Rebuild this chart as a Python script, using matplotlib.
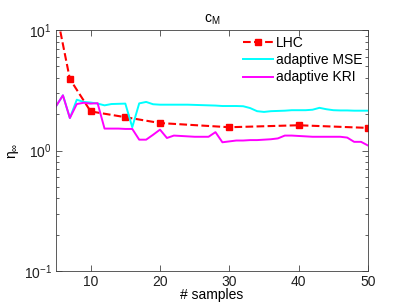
import matplotlib
matplotlib.use("Agg")
import matplotlib.pyplot as plt
from matplotlib.ticker import LogLocator, NullFormatter

plt.rcParams['font.family'] = ['Liberation Sans', 'DejaVu Sans']
plt.rcParams['mathtext.fontset'] = 'custom'
plt.rcParams['mathtext.rm'] = 'Liberation Sans'
plt.rcParams['mathtext.it'] = 'Liberation Sans'
plt.rcParams['mathtext.bf'] = 'Liberation Sans:bold'

# Data
lhc_x = [5, 7, 10, 15, 20, 30, 40, 50]
lhc_y = [14.7, 3.92, 2.11, 1.89, 1.69, 1.56, 1.62, 1.54]

adapt_x = list(range(5, 51))
mse_y = [2.33, 2.87, 1.86, 2.64, 2.53, 2.50, 2.45, 2.37, 2.43, 2.44,
         2.45, 1.56, 2.46, 2.53, 2.42, 2.40, 2.40, 2.40, 2.40, 2.40,
         2.39, 2.38, 2.37, 2.36, 2.34, 2.34, 2.34, 2.33, 2.25, 2.12,
         2.09, 2.12, 2.13, 2.14, 2.16, 2.16, 2.16, 2.18, 2.26, 2.20,
         2.16, 2.15, 2.15, 2.14, 2.14, 2.14]
kri_y = [2.33, 2.87, 1.86, 2.43, 2.49, 2.45, 2.47, 1.52, 1.52, 1.52,
         1.51, 1.51, 1.23, 1.23, 1.35, 1.49, 1.27, 1.33, 1.32, 1.31,
         1.30, 1.30, 1.30, 1.42, 1.17, 1.19, 1.21, 1.21, 1.22, 1.22,
         1.23, 1.24, 1.26, 1.33, 1.33, 1.32, 1.31, 1.30, 1.30, 1.30,
         1.30, 1.30, 1.28, 1.18, 1.18, 1.10]

xticks = [10, 20, 30, 40, 50]

fig = plt.figure(figsize=(4.07, 3.06), dpi=100)
ax = fig.add_axes([56/407, 1-271/306, (368-56)/407, (271-30)/306])

ax.plot(lhc_x, lhc_y, color='#ff0000', linestyle='--', linewidth=1.5,
        marker='s', markersize=5, label='LHC')
ax.plot(adapt_x, mse_y, color='#00ffff', linewidth=1.4, label='adaptive MSE')
ax.plot(adapt_x, kri_y, color='#ff00ff', linewidth=1.4, label='adaptive KRI')

ax.set_yscale('log')
ax.set_xlim(5, 50)
ax.set_ylim(0.1, 10)
ax.set_xticks(xticks)
ax.set_xticklabels([str(t) for t in xticks])
ax.yaxis.set_major_locator(LogLocator(base=10, numticks=5))
ax.yaxis.set_minor_locator(LogLocator(base=10, subs=range(2, 10), numticks=20))
ax.yaxis.set_minor_formatter(NullFormatter())

for s in ax.spines.values():
    s.set_linewidth(0.6)
    s.set_color('#404040')
ax.tick_params(which='both', direction='in', top=True, right=True,
               labelsize=10, colors='#202020', width=0.5, pad=3)
ax.tick_params(which='major', length=4)
ax.tick_params(which='minor', length=2)

ax.set_title(r'c$_{\mathrm{M}}$', fontsize=10, pad=5)
ax.set_xlabel('# samples', fontsize=10, labelpad=-1)
ax.set_ylabel(r'$\mathrm{\eta_{\infty}}$', fontsize=10, labelpad=2)

ax.legend(loc='upper right', bbox_to_anchor=(1.0, 1.0), frameon=False,
          fontsize=10, handlelength=2.2, handletextpad=0.2, labelspacing=0.25,
          borderaxespad=0.2, borderpad=0.2)

fig.savefig('out.png', dpi=100)
